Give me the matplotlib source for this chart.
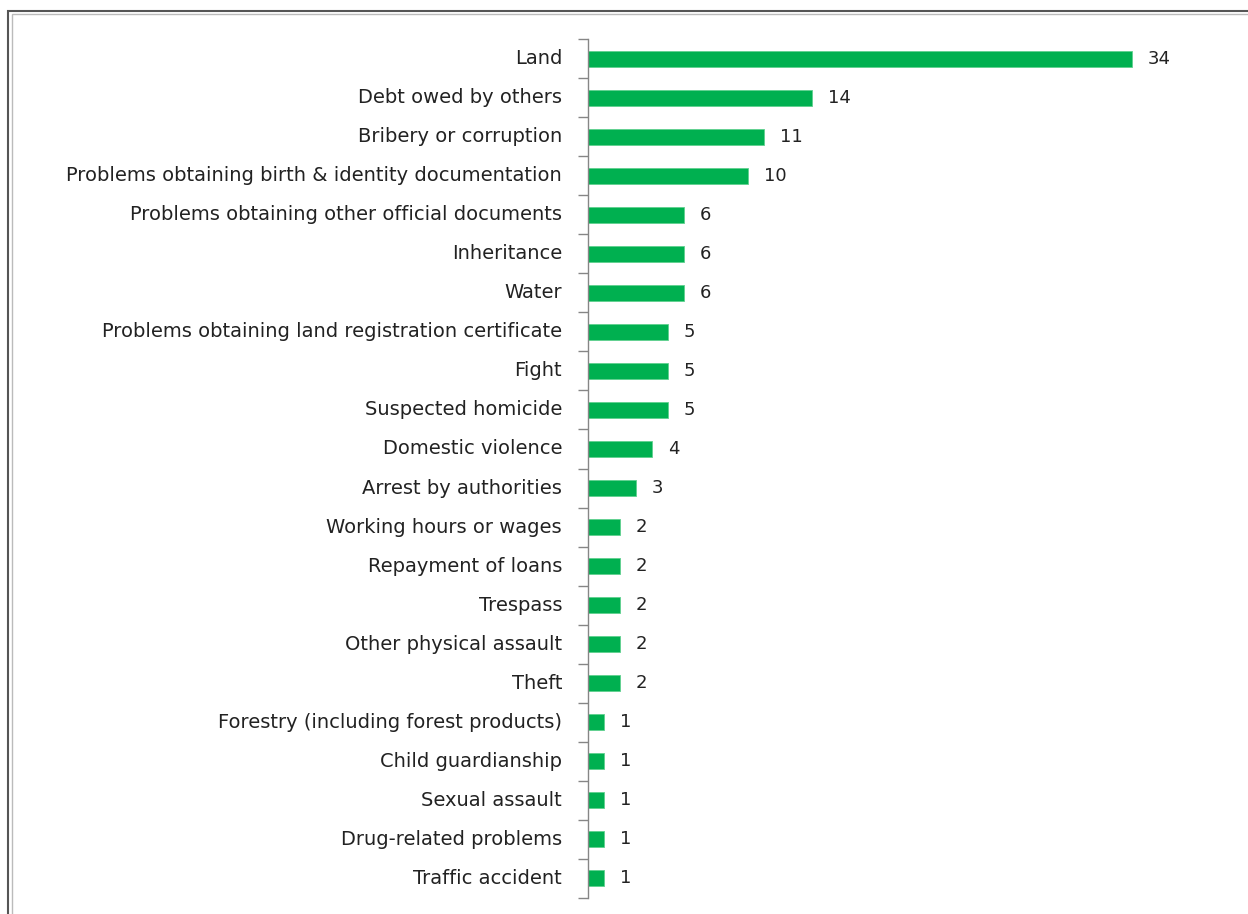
import matplotlib
matplotlib.use('Agg')
import matplotlib.pyplot as plt
from matplotlib.patches import Rectangle

# Categories of disputes and number of cases
categories = [
    'Land',
    'Debt owed by others',
    'Bribery or corruption',
    'Problems obtaining birth & identity documentation',
    'Problems obtaining other official documents',
    'Inheritance',
    'Water',
    'Problems obtaining land registration certificate',
    'Fight',
    'Suspected homicide',
    'Domestic violence',
    'Arrest by authorities',
    'Working hours or wages',
    'Repayment of loans',
    'Trespass',
    'Other physical assault',
    'Theft',
    'Forestry (including forest products)',
    'Child guardianship',
    'Sexual assault',
    'Drug-related problems',
    'Traffic accident',
]
counts = [34, 14, 11, 10, 6, 6, 6, 5, 5, 5, 4, 3, 2, 2, 2, 2, 2, 1, 1, 1, 1, 1]

W, H = 1248, 914
fig = plt.figure(figsize=(W / 100, H / 100), dpi=100)
plt.rcParams['font.family'] = ['DejaVu Sans']

# double frame around the chart area (runs off the right and bottom edges)
fig.patches.append(Rectangle((8 / W, -0.1), 1.2, 1 - 11 / H + 0.1, transform=fig.transFigure,
                             fill=False, edgecolor='#555555', linewidth=1.5))
fig.patches.append(Rectangle((11.5 / W, -0.1), 1.2, 1 - 14.5 / H + 0.1, transform=fig.transFigure,
                             fill=False, edgecolor='#bbbbbb', linewidth=1.0))

left = 588 / W
right = 1200 / W
top = 39 / H
bottom = 898 / H
ax = fig.add_axes([left, 1 - bottom, right - left, bottom - top])

ypos = list(range(len(categories)))
ax.barh(ypos, counts, height=0.41, color='#00B050', edgecolor='#5fd08f', linewidth=0.6)
for y, v in zip(ypos, counts):
    ax.text(v + 1.0, y, str(v), va='center', ha='left', fontsize=13, color='#222222')

ax.set_xlim(0, (1200 - 588) / 16)
ax.set_ylim(len(categories) - 0.5, -0.5)

ax.set_yticks(ypos)
ax.set_yticklabels(categories, fontsize=14, color='#222222', va='center')
ax.set_yticks([i - 0.5 for i in range(len(categories) + 1)], minor=True)
ax.tick_params(axis='y', which='major', length=0, pad=18.7)
ax.tick_params(axis='y', which='minor', length=7, width=1, color='#868686', direction='out')
ax.set_xticks([])

for side in ('top', 'right', 'bottom'):
    ax.spines[side].set_visible(False)
ax.spines['left'].set_color('#868686')
ax.spines['left'].set_linewidth(1)

fig.savefig('out.png', dpi=100)
